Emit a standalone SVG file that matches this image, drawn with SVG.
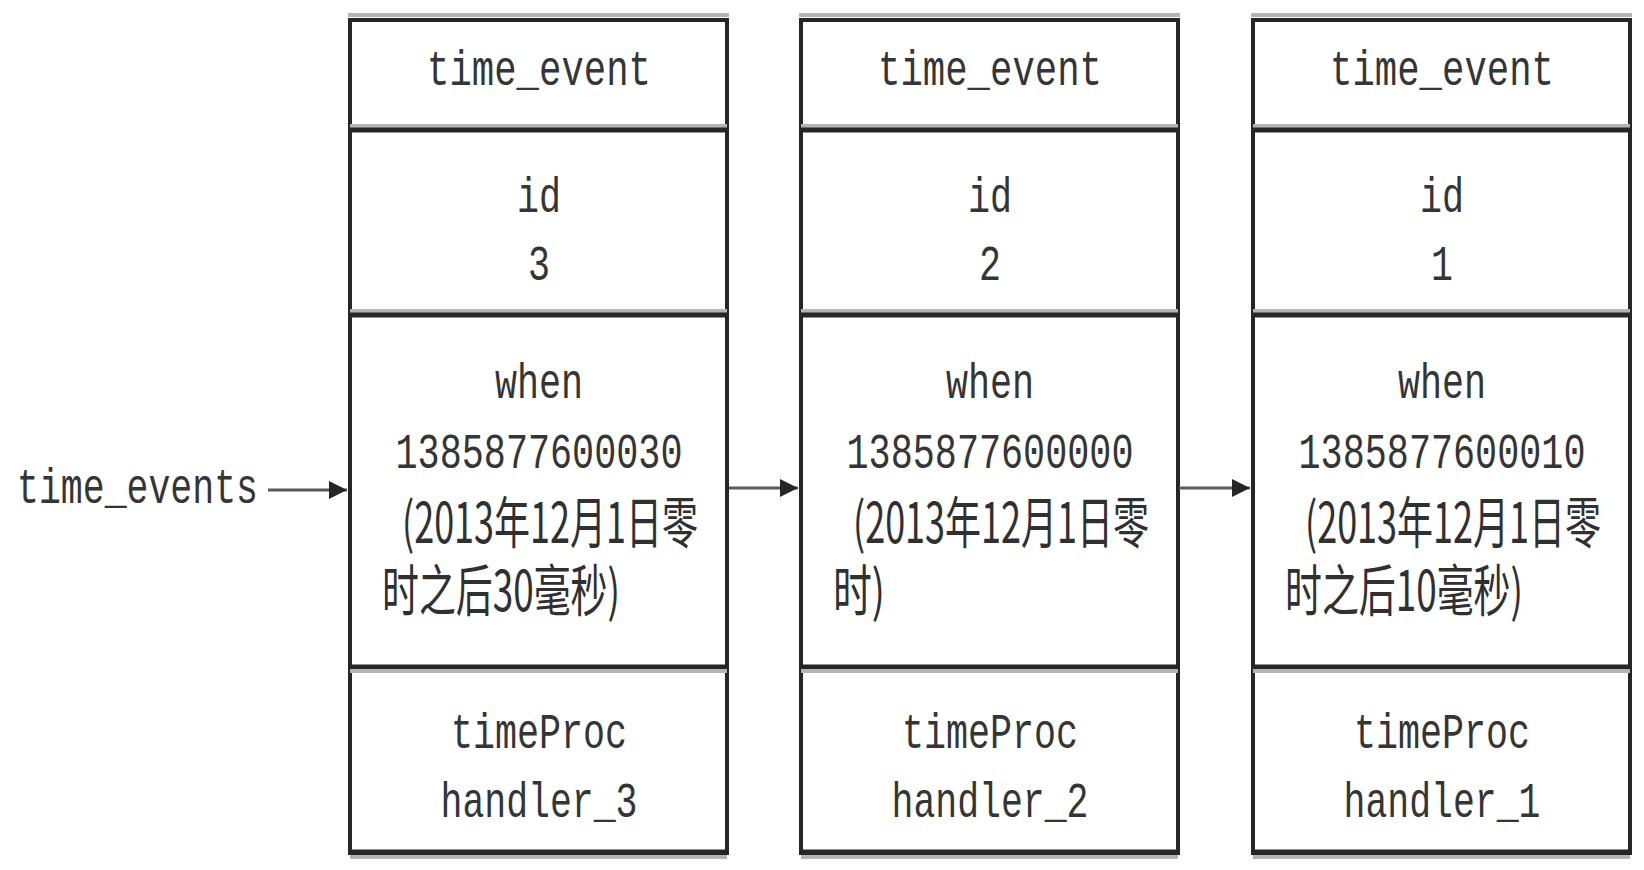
<svg xmlns="http://www.w3.org/2000/svg" width="1644" height="870" viewBox="0 0 1644 870">
<style>
.box{fill:#fff;stroke:#262626;stroke-width:4}
.sep{stroke:#262626;stroke-width:5}
.halo{stroke:#b4b4b4;stroke-width:4}
.m{font-family:"Liberation Mono","DejaVu Sans Mono",monospace;font-size:50px;fill:#353535;text-anchor:middle}
.ml{font-family:"Liberation Mono","DejaVu Sans Mono",monospace;font-size:50px;fill:#353535}
.c{font-family:"Noto Sans CJK SC","Noto Sans",sans-serif;font-size:56px;fill:#303030}
.conn{stroke:#5a5a5a;stroke-width:3;fill:none}
</style>
<defs>
<marker id="ah" viewBox="0 0 10 10" refX="10" refY="5" markerWidth="6" markerHeight="6" orient="auto" markerUnits="strokeWidth">
<path d="M0,0 L10,5 L0,10 z" fill="#262626"/>
</marker>
<g id="frame">
<line class="halo" x1="-2" y1="15" x2="379" y2="15"/>
<rect class="box" x="0" y="20" width="377" height="833"/>
<line class="halo" x1="0" y1="126" x2="377" y2="126"/>
<line class="sep" x1="0" y1="130" x2="377" y2="130"/>
<line class="halo" x1="0" y1="311" x2="377" y2="311"/>
<line class="sep" x1="0" y1="315" x2="377" y2="315"/>
<line class="sep" x1="0" y1="667" x2="377" y2="667"/>
<line class="halo" x1="0" y1="671" x2="377" y2="671"/>
<line class="sep" x1="0" y1="852" x2="377" y2="852"/>
<line class="halo" x1="0" y1="857" x2="377" y2="857"/>
</g>
</defs>

<g id="label">
<text class="ml" x="17" y="503" textLength="241" lengthAdjust="spacingAndGlyphs">time_events</text>
</g>

<g id="event3" transform="translate(350,0)">
<use href="#frame"/>
<text class="m" x="189" y="85" textLength="224" lengthAdjust="spacingAndGlyphs">time_event</text>
<text class="m" x="189" y="212" textLength="44" lengthAdjust="spacingAndGlyphs">id</text>
<text class="m" x="189" y="280" textLength="22" lengthAdjust="spacingAndGlyphs">3</text>
<text class="m" x="189" y="398" textLength="88" lengthAdjust="spacingAndGlyphs">when</text>
<text class="m" x="189" y="468" textLength="287" lengthAdjust="spacingAndGlyphs">1385877600030</text>
<text class="c" x="52" y="543" textLength="296" lengthAdjust="spacingAndGlyphs">(2013年12月1日零</text>
<text class="c" x="32" y="611" textLength="238" lengthAdjust="spacingAndGlyphs">时之后30毫秒)</text>
<text class="m" x="189" y="748" textLength="176" lengthAdjust="spacingAndGlyphs">timeProc</text>
<text class="m" x="189" y="817" textLength="197" lengthAdjust="spacingAndGlyphs">handler_3</text>
</g>

<g id="event2" transform="translate(801,0)">
<use href="#frame"/>
<text class="m" x="189" y="85" textLength="224" lengthAdjust="spacingAndGlyphs">time_event</text>
<text class="m" x="189" y="212" textLength="44" lengthAdjust="spacingAndGlyphs">id</text>
<text class="m" x="189" y="280" textLength="22" lengthAdjust="spacingAndGlyphs">2</text>
<text class="m" x="189" y="398" textLength="88" lengthAdjust="spacingAndGlyphs">when</text>
<text class="m" x="189" y="468" textLength="287" lengthAdjust="spacingAndGlyphs">1385877600000</text>
<text class="c" x="52" y="543" textLength="296" lengthAdjust="spacingAndGlyphs">(2013年12月1日零</text>
<text class="c" x="32" y="611" textLength="52" lengthAdjust="spacingAndGlyphs">时)</text>
<text class="m" x="189" y="748" textLength="176" lengthAdjust="spacingAndGlyphs">timeProc</text>
<text class="m" x="189" y="817" textLength="197" lengthAdjust="spacingAndGlyphs">handler_2</text>
</g>

<g id="event1" transform="translate(1253,0)">
<use href="#frame"/>
<text class="m" x="189" y="85" textLength="224" lengthAdjust="spacingAndGlyphs">time_event</text>
<text class="m" x="189" y="212" textLength="44" lengthAdjust="spacingAndGlyphs">id</text>
<text class="m" x="189" y="280" textLength="22" lengthAdjust="spacingAndGlyphs">1</text>
<text class="m" x="189" y="398" textLength="88" lengthAdjust="spacingAndGlyphs">when</text>
<text class="m" x="189" y="468" textLength="287" lengthAdjust="spacingAndGlyphs">1385877600010</text>
<text class="c" x="52" y="543" textLength="296" lengthAdjust="spacingAndGlyphs">(2013年12月1日零</text>
<text class="c" x="32" y="611" textLength="238" lengthAdjust="spacingAndGlyphs">时之后10毫秒)</text>
<text class="m" x="189" y="748" textLength="176" lengthAdjust="spacingAndGlyphs">timeProc</text>
<text class="m" x="189" y="817" textLength="197" lengthAdjust="spacingAndGlyphs">handler_1</text>
</g>

<g id="connectors">
<line class="conn" x1="268" y1="490" x2="347" y2="490" marker-end="url(#ah)"/>
<line class="conn" x1="729" y1="488" x2="798" y2="488" marker-end="url(#ah)"/>
<line class="conn" x1="1179" y1="488" x2="1250" y2="488" marker-end="url(#ah)"/>
</g>
</svg>
